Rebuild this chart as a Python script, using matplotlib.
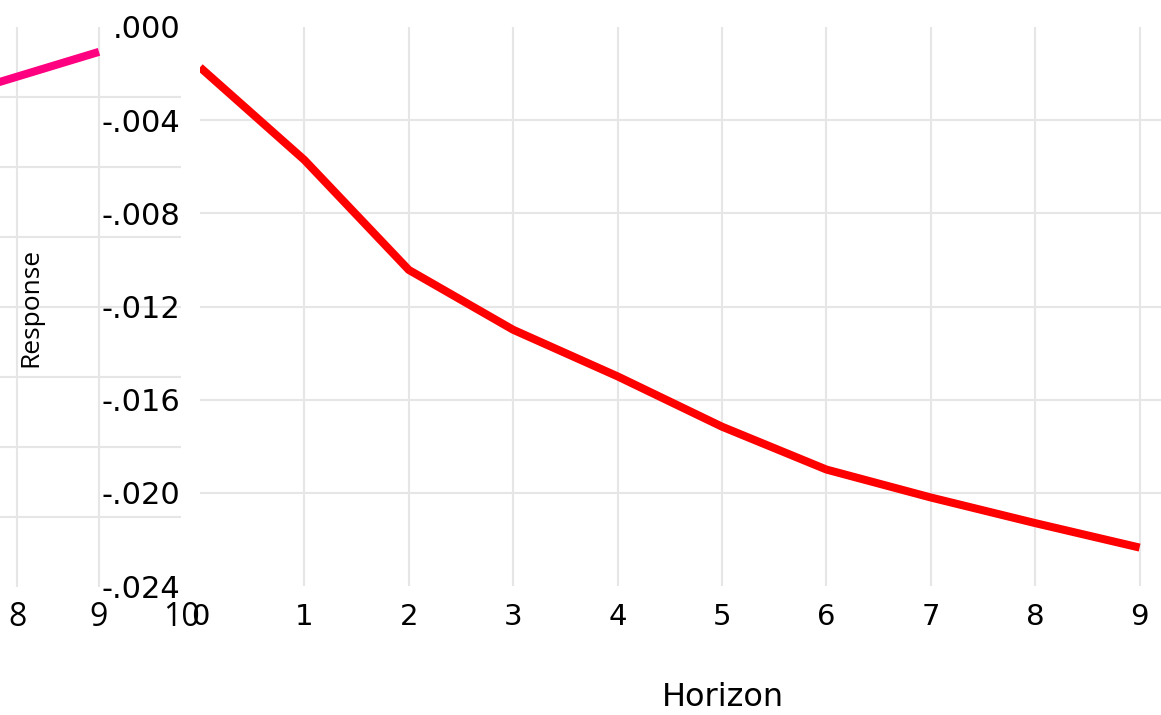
import matplotlib
matplotlib.use("Agg")
import matplotlib.pyplot as plt
from matplotlib.ticker import FuncFormatter

# Impulse responses by horizon
horizon = [0, 1, 2, 3, 4, 5, 6, 7, 8, 9]
response_main = [-0.00173, -0.00571, -0.01043, -0.01300, -0.01500,
                 -0.01716, -0.01900, -0.02020, -0.02130, -0.02235]
horizon_side = [7, 8, 9]
response_side = [-0.00213, -0.00142, -0.00071]

main_yticks = [0, -0.004, -0.008, -0.012, -0.016, -0.020, -0.024]
side_yticks = [0, -0.002, -0.004, -0.006, -0.008, -0.010, -0.012, -0.014, -0.016]
x_ticks = list(range(0, 11))

W, H = 1161, 715
fig = plt.figure(figsize=(W / 100, H / 100), dpi=100)
grid_color = "#e6e6e6"
narrow = ["Liberation Sans Narrow", "Open Sans", "DejaVu Sans"]


def fx(px):
    return px / W


def fy(py):
    return 1 - py / H


def hide_edge_grids(ax, first_x=True, last_x=True):
    xg = ax.get_xgridlines()
    yg = ax.get_ygridlines()
    if first_x:
        xg[0].set_visible(False)
    if last_x:
        xg[-1].set_visible(False)
    yg[0].set_visible(False)
    yg[-1].set_visible(False)


# Left panel (mostly outside the canvas)
ax_l = fig.add_axes([fx(181 - 820), fy(587), fx(820), (587 - 27) / H])
ax_l.plot(horizon_side, response_side, color="#ff0080", lw=5.8,
          solid_capstyle="butt")
ax_l.set_xlim(0, 10)
ax_l.set_ylim(-0.016, 0)
ax_l.set_xticks(x_ticks)
ax_l.set_yticks(side_yticks)
ax_l.set_yticklabels([])
ax_l.grid(True, color=grid_color, lw=1.5)
ax_l.set_axisbelow(True)
for s in ax_l.spines.values():
    s.set_visible(False)
ax_l.tick_params(length=0, pad=10)
for lab in ax_l.get_xticklabels():
    lab.set_family(narrow)
    lab.set_fontsize(23)
fig.canvas.draw()
hide_edge_grids(ax_l)
fig.text(fx(31), fy(307), "Response", rotation=90, ha="center", va="center",
         family=narrow, fontsize=19)

# Right panel
ax = fig.add_axes([fx(200), fy(586), fx(1044), (586 - 27) / H])
ax.patch.set_alpha(0)
ax.plot(horizon, response_main, color="#ff0000", lw=5.8,
        solid_capstyle="butt")
ax.set_xlim(0, 10)
ax.set_ylim(-0.024, 0)
ax.set_xticks(x_ticks)
ax.set_yticks(main_yticks)
ax.yaxis.set_major_formatter(
    FuncFormatter(lambda v, _: f"{v:.3f}".replace("0.", ".", 1)
                  if abs(v) > 1e-12 else ".000"))
ax.grid(True, color=grid_color, lw=1.5)
ax.set_axisbelow(True)
for s in ax.spines.values():
    s.set_visible(False)
ax.tick_params(axis="y", length=0, pad=14, labelsize=22)
ax.tick_params(axis="x", length=0, pad=12, labelsize=21)
for lab in ax.get_yticklabels():
    lab.set_verticalalignment("center_baseline")
fig.canvas.draw()
hide_edge_grids(ax, first_x=True, last_x=False)
ax.get_xgridlines()[-1].set_visible(False)

fig.text(fx(723), fy(697), "Horizon", ha="center", va="center", fontsize=23)

fig.savefig("out.png", dpi=100)
